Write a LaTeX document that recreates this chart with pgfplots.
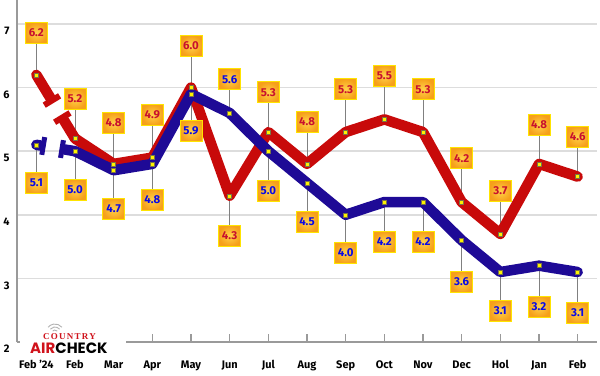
\documentclass[border=0pt]{standalone}
\usepackage{pgfplots}
\pgfplotsset{compat=1.18}
\usepackage{pgfplotstable}
\usepackage{fontspec}
\setmainfont{Fira Sans}
\newfontfamily\slab{Liberation Serif}[LetterSpace=14]
\newfontfamily\logofont{Poppins}
\usetikzlibrary{decorations.markings}

\definecolor{redline}{HTML}{C80A0A}
\definecolor{blueline}{HTML}{1E0A96}
\definecolor{redtext}{HTML}{C8102E}
\definecolor{bluetext}{HTML}{0A0AE6}
\definecolor{axisgray}{HTML}{9A9A9A}
\definecolor{gridgray}{HTML}{DDDDDD}
\definecolor{boxin}{HTML}{FFD24A}
\definecolor{boxout}{HTML}{F6A01A}
\definecolor{boxedge}{HTML}{FFE400}
\definecolor{markfill}{HTML}{FFF200}
\definecolor{logored}{HTML}{D0121B}

\pgfplotstableread{
x y off dv
0 6.2 42 0.66
1 5.2 40 0.63
2 4.8 41 0.64
3 4.9 43 0.68
4 6.0 42 0.66
5 4.3 -40 -0.63
6 5.3 40 0.63
7 4.8 42 0.66
8 5.3 43 0.68
9 5.5 44 0.69
10 5.3 43 0.68
11 4.2 44 0.69
12 3.7 43 0.68
13 4.8 39 0.61
14 4.6 40 0.63
}\reddata

\pgfplotstableread{
x y off dv
0 5.1 -38 -0.60
1 5.0 -39 -0.61
2 4.7 -39 -0.61
3 4.8 -36 -0.57
4 5.9 -37 -0.58
5 5.6 34 0.53
6 5.0 -40 -0.63
7 4.5 -39 -0.61
8 4.0 -38 -0.60
9 4.2 -40 -0.63
10 4.2 -40 -0.63
11 3.6 -42 -0.66
12 3.1 -39 -0.61
13 3.2 -41 -0.64
14 3.1 -41 -0.64
}\bluedata

\tikzset{lbl/.style={rectangle, draw=boxedge, line width=1bp, shade, shading=radial,
  inner color=boxin, outer color=boxout, minimum width=22bp, minimum height=21bp,
  inner sep=1bp, font=\bfseries\fontsize{11.5}{12}\selectfont}}

\begin{document}
\begin{tikzpicture}
\begin{axis}[
  scale only axis, width=580bp, height=342bp,
  xmin=-0.5, xmax=14.5, ymin=2, ymax=7.377,
  axis x line=bottom, axis y line=left,
  axis line style={-, draw=axisgray, line width=1.5bp},
  xtick={0,...,14},
  xticklabels={Feb '24,Feb,Mar,Apr,May,Jun,Jul,Aug,Sep,Oct,Nov,Dec,Hol,Jan,Feb},
  ytick={2,...,7},
  tick align=inside, major tick length=8bp,
  xtick style={draw=axisgray, line width=1.2bp},
  ytick style={draw=none},
  ymajorgrids, major grid style={draw=gridgray, line width=1.5bp},
  ticklabel style={font=\bfseries\fontsize{11}{12}\selectfont},
  xticklabel style={yshift=-15bp},
  yticklabel style={xshift=-4bp, yshift=-7bp},
  /pgf/number format/assume math mode=true,
  clip=false,
]
% connectors
\addplot[forget plot, draw=gray, line width=1bp, quiver={u=0, v=\thisrow{dv}}] table[x=x,y=y] {\reddata};
\addplot[forget plot, draw=gray, line width=1bp, quiver={u=0, v=\thisrow{dv}}] table[x=x,y=y] {\bluedata};

% red line
\addplot[forget plot, mark=none, draw=redline, line width=10.5bp, line cap=round, line join=round,
  dash pattern=on 27bp off 26bp on 200bp,
  postaction={decorate, decoration={markings,
    mark=at position 30bp with {\path[fill=redline, draw=none] (-3bp,-9bp) rectangle (3bp,9bp);},
    mark=at position 50bp with {\path[fill=redline, draw=none] (-3bp,-9bp) rectangle (3bp,9bp);}}}]
  coordinates {(0,6.2) (1,5.2)};
\addplot[forget plot, mark=none, draw=redline, line width=10.5bp, line cap=round, line join=round,
  skip coords between index={0}{1}] table[x=x,y=y] {\reddata};

% blue line
\addplot[forget plot, mark=none, draw=blueline, line width=10.5bp, line cap=round, line join=round,
  dash pattern=on 4bp off 25bp on 200bp,
  postaction={decorate, decoration={markings,
    mark=at position 7bp with {\path[fill=blueline, draw=none] (-2.5bp,-9bp) rectangle (2.5bp,9bp);},
    mark=at position 26bp with {\path[fill=blueline, draw=none] (-2.5bp,-9bp) rectangle (2.5bp,9bp);}}}]
  coordinates {(0,5.1) (1,5.0)};
\addplot[forget plot, mark=none, draw=blueline, line width=10.5bp, line cap=round, line join=round,
  skip coords between index={0}{1}] table[x=x,y=y] {\bluedata};

% markers
\addplot[forget plot, only marks, mark=square*, mark size=2bp,
  mark options={fill=markfill, draw=black!60!yellow, line width=0.4bp}] table[x=x,y=y] {\reddata};
\addplot[forget plot, only marks, mark=square*, mark size=2bp,
  mark options={fill=markfill, draw=black!60!yellow, line width=0.4bp}] table[x=x,y=y] {\bluedata};

% labels
\addplot[forget plot, draw=none, mark=none,
  nodes near coords={\pgfmathprintnumber[fixed,fixed zerofill,precision=1]{\pgfplotspointmeta}},
  visualization depends on={\thisrow{off} \as \offv},
  every node near coord/.style={lbl, text=redtext, anchor=center, yshift=\offv pt}]
  table[x=x,y=y] {\reddata};
\addplot[forget plot, draw=none, mark=none,
  nodes near coords={\pgfmathprintnumber[fixed,fixed zerofill,precision=1]{\pgfplotspointmeta}},
  visualization depends on={\thisrow{off} \as \offv},
  every node near coord/.style={lbl, text=bluetext, anchor=center, yshift=\offv pt}]
  table[x=x,y=y] {\bluedata};
\end{axis}

% logo
\fill[white] (3bp,-12bp) rectangle (109bp,17bp);
\foreach \r in {3,6,9} {
  \draw[gray!60, line width=0.9bp] (38bp,9bp) ++(40:\r bp) arc (40:140:\r bp);
}
\node[anchor=base west, inner sep=0, text=logored, font=\slab\bfseries\fontsize{9}{9}\selectfont] at (26bp,2.5bp) {COUNTRY};
\node[anchor=base west, inner sep=0, font=\logofont\bfseries\fontsize{15}{15}\selectfont] at (13bp,-11bp) {\textcolor{logored}{AIR}CHECK};

\pgfresetboundingbox
\path[use as bounding box] (-17bp,-34bp) rectangle (583bp,342bp);
\end{tikzpicture}
\end{document}
